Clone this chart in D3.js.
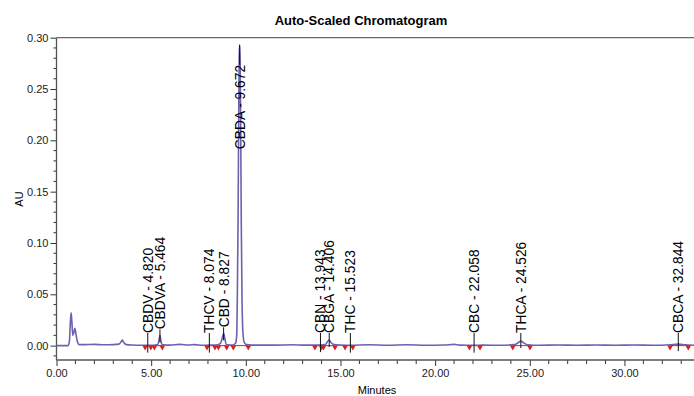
<!DOCTYPE html>
<html>
<head>
<meta charset="utf-8">
<script src="https://cdn.jsdelivr.net/npm/d3@7"></script>
<style>
  body { margin: 0; background: #fff; }
  svg { display: block; font-family: Arial, "Liberation Sans", sans-serif; }
</style>
</head>
<body>
<script>
// trace: [minutes, AU]
const traceMinutes = [0.00, 0.60, 0.68, 0.73, 0.77, 0.81, 0.86, 0.92, 0.97, 1.03, 1.10, 1.20, 1.50, 2.00, 2.50, 3.00, 3.30, 3.42, 3.48, 3.55, 3.70, 4.00, 4.50, 4.82, 5.10, 5.35, 5.42, 5.464, 5.51, 5.58, 6.00, 6.50, 7.00, 7.30, 7.70, 8.07, 8.40, 8.65, 8.75, 8.827, 8.90, 8.97, 9.30, 9.45, 9.52, 9.55, 9.59, 9.62, 9.65, 9.672, 9.70, 9.73, 9.76, 9.80, 9.85, 9.92, 10.05, 10.50, 11.50, 12.50, 13.00, 13.94, 14.20, 14.32, 14.406, 14.50, 14.65, 15.00, 15.52, 16.50, 17.50, 18.50, 19.50, 20.50, 21.00, 21.30, 22.06, 22.50, 23.50, 24.20, 24.40, 24.526, 24.65, 24.90, 25.50, 26.50, 27.50, 28.50, 29.50, 30.50, 31.50, 32.40, 32.844, 33.20, 33.70];
const traceAU = [0.000, 0.000, 0.004, 0.022, 0.032, 0.024, 0.010, 0.013, 0.017, 0.011, 0.004, 0.001, 0.001, 0.0012, 0.0008, 0.001, 0.0015, 0.004, 0.0055, 0.003, 0.001, 0.0006, 0.0004, 0.0004, 0.0003, 0.001, 0.006, 0.010, 0.005, 0.001, 0.0005, 0.0012, 0.0006, 0.001, 0.0003, 0.0005, 0.0005, 0.002, 0.007, 0.012, 0.006, 0.001, 0.0005, 0.002, 0.010, 0.045, 0.120, 0.210, 0.280, 0.293, 0.280, 0.210, 0.120, 0.045, 0.012, 0.003, 0.001, 0.0005, 0.0005, 0.0008, 0.0005, 0.0005, 0.001, 0.004, 0.0055, 0.003, 0.001, 0.0005, 0.0003, 0.0008, 0.0003, 0.0008, 0.0003, 0.0006, 0.0012, 0.0005, 0.0003, 0.0005, 0.0003, 0.001, 0.003, 0.0045, 0.003, 0.0008, 0.0003, 0.0006, 0.0003, 0.0006, 0.0003, 0.0006, 0.0003, 0.0008, 0.0015, 0.0008, 0.0003];

// named peaks
const peakNames = ["CBDV", "CBDVA", "THCV", "CBD", "CBDA", "CBN", "CBGA", "THC", "CBC", "THCA", "CBCA"];
const peakTimes = [4.820, 5.464, 8.074, 8.827, 9.672, 13.943, 14.406, 15.523, 22.058, 24.526, 32.844];
const peakApex = [0.000, 0.010, 0.000, 0.012, 0.293, 0.0005, 0.0055, 0.000, 0.000, 0.0045, 0.0015];
const peakStart = [4.68, 5.17, 7.95, 8.55, 9.34, 13.65, 14.10, 15.24, 21.81, 24.10, 32.41];
const peakEnd = [4.98, 5.59, 8.37, 8.99, 10.13, 14.00, 14.71, 15.65, 22.37, 25.01, 33.37];

const xMajor = [0, 5, 10, 15, 20, 25, 30];
const yMajor = [0.00, 0.05, 0.10, 0.15, 0.20, 0.25, 0.30];

const width = 694, height = 396;

const svg = d3.select("body").append("svg")
  .attr("width", width)
  .attr("height", height);

const x = d3.scaleLinear().domain([0, 33.7]).range([56.5, 694.5]);
const y = d3.scaleLinear().domain([-0.014, 0.30]).range([360, 37.7]);

// title
svg.append("text")
  .attr("x", 361).attr("y", 25)
  .attr("text-anchor", "middle")
  .style("font-size", "13px").style("font-weight", "bold")
  .text("Auto-Scaled Chromatogram");

// frame top line
svg.append("line")
  .attr("x1", x(0)).attr("x2", width)
  .attr("y1", y(0.30)).attr("y2", y(0.30))
  .attr("stroke", "#6a6a6a").attr("stroke-width", 1.3);

// y axis
const yAxis = svg.append("g").attr("transform", `translate(${x(0)},0)`);
yAxis.call(d3.axisLeft(y).tickValues(yMajor).tickFormat(d3.format(".2f")).tickSize(6).tickPadding(2))
  .call(g => g.select(".domain").remove());
yAxis.selectAll(".tick text").style("font-size", "11px").attr("fill", "#222");
yAxis.selectAll(".tick line").attr("stroke", "#333");
yAxis.selectAll(".minor").data(d3.range(-1, 30).map(i => i / 100).filter(v => Math.abs(v * 20 - Math.round(v * 20)) > 1e-6))
  .enter().append("line")
  .attr("x1", -3).attr("x2", 0)
  .attr("y1", d => y(d)).attr("y2", d => y(d))
  .attr("stroke", "#333");
yAxis.append("line")
  .attr("x1", 0).attr("x2", 0)
  .attr("y1", y(0.30)).attr("y2", y(-0.014))
  .attr("stroke", "#555").attr("stroke-width", 1.3);

// x axis
const xAxis = svg.append("g").attr("transform", `translate(0,${y(-0.014)})`);
xAxis.call(d3.axisBottom(x).tickValues(xMajor).tickFormat(d3.format(".2f")).tickSize(6).tickPadding(3))
  .call(g => g.select(".domain").remove());
xAxis.selectAll(".tick text").style("font-size", "11px").attr("fill", "#222");
xAxis.selectAll(".tick line").attr("stroke", "#333");
xAxis.selectAll(".minor").data(d3.range(1, 34).filter(d => d % 5 !== 0))
  .enter().append("line")
  .attr("x1", d => x(d)).attr("x2", d => x(d))
  .attr("y1", 0).attr("y2", 4)
  .attr("stroke", "#333");
xAxis.append("line")
  .attr("x1", x(0)).attr("x2", width)
  .attr("y1", 0).attr("y2", 0)
  .attr("stroke", "#555").attr("stroke-width", 1.3);

// axis titles
svg.append("text")
  .attr("transform", `translate(23,${199}) rotate(-90)`)
  .attr("text-anchor", "middle")
  .style("font-size", "11px")
  .text("AU");
svg.append("text")
  .attr("x", 377).attr("y", 394)
  .attr("text-anchor", "middle")
  .style("font-size", "11px")
  .text("Minutes");

// integration baselines (red)
const peaks = peakNames.map((n, i) => ({
  name: n, t: peakTimes[i], apex: peakApex[i], s: peakStart[i], e: peakEnd[i]
}));

svg.append("g").selectAll("line").data(peaks).enter().append("line")
  .attr("x1", d => x(d.s)).attr("x2", d => x(d.e))
  .attr("y1", y(0)).attr("y2", y(0))
  .attr("stroke", "#d42020").attr("stroke-width", 1);

// trace
const trace = traceMinutes.map((t, i) => [t, traceAU[i]]);
const line = d3.line().x(d => x(d[0])).y(d => y(d[1])).curve(d3.curveMonotoneX);
svg.append("path")
  .datum(trace)
  .attr("d", line)
  .attr("fill", "none")
  .attr("stroke", "#6f60b0")
  .attr("stroke-width", 1.6);

// integration markers
const tri = d3.symbol().type(d3.symbolTriangle).size(14);
const marks = peaks.flatMap(d => [d.s, d.e]);
svg.append("g").selectAll("path").data(marks).enter().append("path")
  .attr("d", tri)
  .attr("transform", d => `translate(${x(d)},${y(0) + 1.5}) rotate(180)`)
  .attr("fill", "#d42020");

// peak labels
const labelSize = 13.8;
const labelG = svg.append("g");
peaks.forEach(d => {
  const px = x(d.t);
  const apexY = y(d.apex);
  const textLen = 92;
  let bottom = Math.min(333, apexY - 6);
  if (bottom - textLen < y(0.30)) {
    // no room above the apex: write the label down along the peak
    const top = apexY + 20;
    labelG.append("line")
      .attr("x1", px).attr("x2", px)
      .attr("y1", apexY).attr("y2", top)
      .attr("stroke", "#111");
    labelG.append("text")
      .attr("transform", `translate(${px},${top}) rotate(-90)`)
      .attr("text-anchor", "end")
      .attr("dy", "0.36em")
      .style("font-size", labelSize + "px")
      .text(`${d.name} - ${d.t.toFixed(3)}`);
  } else {
    labelG.append("line")
      .attr("x1", px).attr("x2", px)
      .attr("y1", bottom).attr("y2", apexY + 7)
      .attr("stroke", "#111");
    labelG.append("text")
      .attr("transform", `translate(${px},${bottom}) rotate(-90)`)
      .attr("text-anchor", "start")
      .attr("dy", "0.36em")
      .style("font-size", labelSize + "px")
      .text(`${d.name} - ${d.t.toFixed(3)}`);
  }
});
</script>
</body>
</html>
